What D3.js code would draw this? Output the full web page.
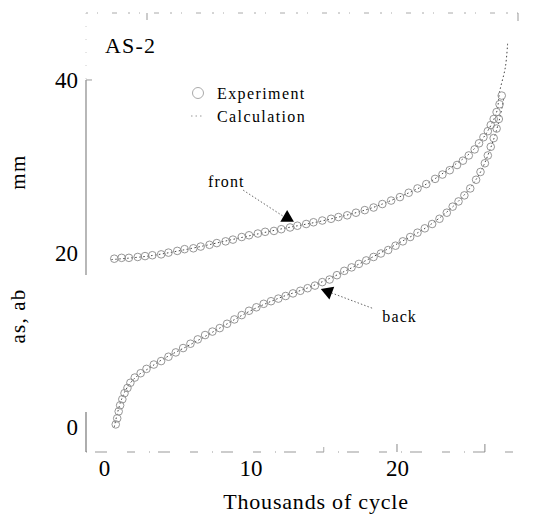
<!DOCTYPE html>
<html><head><meta charset="utf-8">
<script src="https://cdn.jsdelivr.net/npm/d3@7"></script>
<style>
html,body{margin:0;padding:0;background:#fff;}
svg text{font-family:"Liberation Serif","Times New Roman",serif;fill:#000;}
</style></head>
<body><svg id="c" width="539" height="518"></svg>
<script>
// ---- data (thousands of cycles, mm) ----
const frontExpX = [0.7,1.2,1.7,2.3,2.8,3.3,3.9,4.4,5.0,5.5,6.1,6.6,7.2,7.7,8.3,8.8,9.4,9.9,10.5,11.0,11.6,12.1,12.7,13.2,13.8,14.3,14.9,15.5,16.0,16.6,17.2,17.8,18.4,19.0,19.6,20.2,20.8,21.4,22.0,22.6,23.1,23.6,24.1,24.5,24.9,25.3,25.6,25.9,26.2,26.4,26.6,26.8,27.0,27.15];
const frontExpY = [19.4,19.5,19.5,19.6,19.7,19.8,19.9,20.1,20.3,20.5,20.6,20.8,21.0,21.2,21.4,21.6,21.9,22.1,22.3,22.5,22.6,22.8,23.0,23.2,23.4,23.6,23.8,24.0,24.2,24.4,24.7,25.0,25.3,25.7,26.1,26.5,27.0,27.5,28.0,28.6,29.1,29.6,30.2,30.7,31.3,32.0,32.7,33.4,34.1,34.8,35.5,36.3,37.2,38.2];
const backExpX = [0.8,0.9,1.0,1.1,1.25,1.4,1.6,1.8,2.1,2.5,2.9,3.4,3.9,4.4,4.9,5.4,5.9,6.4,6.9,7.4,7.9,8.4,8.9,9.4,9.9,10.4,10.9,11.4,11.9,12.4,12.9,13.4,13.9,14.4,14.9,15.4,15.9,16.4,16.9,17.4,17.9,18.4,18.9,19.4,19.9,20.4,20.9,21.4,21.9,22.4,22.9,23.4,23.8,24.2,24.6,25.0,25.4,25.7,26.0,26.2,26.4,26.6,26.8,26.95];
const backExpY = [0.3,1.0,1.8,2.5,3.2,3.9,4.5,5.1,5.7,6.2,6.7,7.2,7.6,8.1,8.6,9.1,9.6,10.1,10.6,11.0,11.4,11.9,12.4,12.9,13.4,13.8,14.2,14.5,14.8,15.1,15.4,15.7,16.0,16.3,16.7,17.0,17.5,18.0,18.4,18.8,19.2,19.6,20.0,20.4,20.9,21.4,21.9,22.4,22.9,23.4,24.0,24.7,25.4,26.0,26.7,27.5,28.5,29.4,30.4,31.3,32.3,33.3,34.4,35.5];
const frontCalcX = [0.5,3,6,9,12,15,18,20,22,24,25,26,26.8,27.0,27.4,27.55];
const frontCalcY = [19.3,19.7,20.6,21.7,22.8,23.8,25.1,26.4,28.0,30.3,31.6,33.6,36.3,38.6,41.5,44.2];
const backCalcX = [0.7,0.9,1.2,1.6,2.2,3,4,6,8,10,12,14,16,18,20,22,24,25.5,26.4,27.0,27.3];
const backCalcY = [0,1.5,3.2,4.6,5.8,6.7,7.8,9.6,11.5,13.4,14.9,16.1,17.6,19.3,21.1,23.0,25.7,28.8,32.2,35.5,38.0];
const xTicks = [0,10,20];
const yTicks = [0,20,40];
const legendLabels = ["Experiment","Calculation"];
// annotations: [label, textX, textY, lineX0, lineY0, tipX, tipY]
const annFront = ["front", 7.1, 27.7, 9.5, 27.3, 12.5, 24.0];
const annBack  = ["back", 19.0, 12.1, 18.3, 13.7, 15.3, 15.6];

const svg = d3.select("#c");
const x = d3.scaleLinear().domain([-1.23, 28.26]).range([86, 518]);
const y = d3.scaleLinear().domain([-2.88, 47.72]).range([452, 13]);

// frame (faded scan look)
svg.append("line").attr("x1",86).attr("x2",518).attr("y1",13).attr("y2",13)
  .attr("stroke","#aaa").attr("stroke-width",1).attr("stroke-dasharray","2,9,1,14,5,11");
svg.append("line").attr("x1",86).attr("x2",518).attr("y1",452).attr("y2",452)
  .attr("stroke","#999").attr("stroke-width",1).attr("stroke-dasharray","1,8,12,20,8,14");
svg.append("line").attr("x1",86).attr("x2",86).attr("y1",80).attr("y2",275)
  .attr("stroke","#888").attr("stroke-width",1.2);
svg.append("line").attr("x1",86).attr("x2",86).attr("y1",412).attr("y2",452)
  .attr("stroke","#777").attr("stroke-width",1.2);
svg.append("line").attr("x1",86).attr("x2",86).attr("y1",13).attr("y2",80)
  .attr("stroke","#ccc").attr("stroke-width",1).attr("stroke-dasharray","1,12");
// small ticks
[20,26].forEach(v=>svg.append("line").attr("x1",x(v)).attr("x2",x(v)).attr("y1",452).attr("y2",444).attr("stroke","#888"));
[15].forEach(v=>svg.append("line").attr("x1",x(v)).attr("x2",x(v)).attr("y1",452).attr("y2",447).attr("stroke","#aaa"));
svg.append("line").attr("x1",86).attr("x2",92).attr("y1",y(40)).attr("y2",y(40)).attr("stroke","#999");
svg.append("line").attr("x1",147).attr("x2",147).attr("y1",13).attr("y2",20).attr("stroke","#999");
svg.append("line").attr("x1",518).attr("x2",518).attr("y1",13).attr("y2",21).attr("stroke","#999");

// axes labels
const gx = svg.append("g").attr("transform","translate(0,452)")
  .call(d3.axisBottom(x).tickValues(xTicks).tickSize(0).tickPadding(8).tickFormat(d3.format("d")));
gx.select(".domain").remove();
gx.selectAll("text").style("font-family","Liberation Serif").style("font-size","23px").attr("fill","#000");
const gy = svg.append("g").attr("transform","translate(86,0)")
  .call(d3.axisLeft(y).tickValues(yTicks).tickSize(0).tickPadding(8).tickFormat(d3.format("d")));
gy.select(".domain").remove();
gy.selectAll("text").style("font-family","Liberation Serif").style("font-size","23px").attr("fill","#000");

// titles
svg.append("text").attr("x",316).attr("y",509).attr("text-anchor","middle")
  .style("font-size","22px").style("letter-spacing","0.8px").text("Thousands of cycle");
svg.append("text").attr("transform","translate(25,316) rotate(-90)").attr("text-anchor","middle")
  .style("font-size","21px").style("letter-spacing","1.2px").text("as,  ab");
svg.append("text").attr("transform","translate(25,172) rotate(-90)").attr("text-anchor","middle")
  .style("font-size","21px").style("letter-spacing","1.5px").text("mm");
svg.append("text").attr("x",105).attr("y",53)
  .style("font-size","22px").style("letter-spacing","1.2px").text("AS-2");

// calculation curves
const lineX = d3.line().x(d=>x(d[0])).y(d=>y(d[1])).curve(d3.curveCatmullRom);
[[frontCalcX,frontCalcY],[backCalcX,backCalcY]].forEach(([xs,ys])=>{
  svg.append("path").datum(xs.map((v,i)=>[v,ys[i]])).attr("d",lineX)
    .attr("fill","none").attr("stroke","#444").attr("stroke-width",1).attr("stroke-dasharray","1.5,2.5");
});

// experiment circles
[[frontExpX,frontExpY],[backExpX,backExpY]].forEach(([xs,ys])=>{
  svg.append("g").selectAll("circle").data(xs.map((v,i)=>[v,ys[i]])).join("circle")
    .attr("cx",d=>x(d[0])).attr("cy",d=>y(d[1])).attr("r",3.8)
    .attr("fill","none").attr("stroke","#8a8a8a").attr("stroke-width",0.9);
});

// legend
svg.append("circle").attr("cx",198).attr("cy",93).attr("r",5.5).attr("fill","none").attr("stroke","#aaa").attr("stroke-width",1);
svg.append("line").attr("x1",191).attr("x2",203).attr("y1",116).attr("y2",116)
  .attr("stroke","#999").attr("stroke-width",1).attr("stroke-dasharray","1.5,3");
legendLabels.forEach((t,i)=>svg.append("text").attr("x",217).attr("y",99+i*23)
  .style("font-size","16px").style("letter-spacing","1.4px").text(t));

// annotations
[annFront, annBack].forEach(a=>{
  svg.append("text").attr("x",x(a[1])).attr("y",y(a[2])).style("font-size","16px").style("letter-spacing","1.1px").text(a[0]);
  svg.append("line").attr("x1",x(a[3])).attr("y1",y(a[4])).attr("x2",x(a[5])).attr("y2",y(a[6]))
    .attr("stroke","#666").attr("stroke-width",1).attr("stroke-dasharray","1.5,2");
});
svg.append("path").attr("d",d3.symbol(d3.symbolTriangle,80)())
  .attr("transform",`translate(${x(annFront[5])},${y(annFront[6])-1})`).attr("fill","#000");
const ang = Math.atan2(y(annBack[6])-y(annBack[4]), x(annBack[5])-x(annBack[3]))*180/Math.PI + 90;
svg.append("path").attr("d",d3.symbol(d3.symbolTriangle,80)())
  .attr("transform",`translate(${x(annBack[5])},${y(annBack[6])}) rotate(${ang})`).attr("fill","#000");
</script></body></html>
